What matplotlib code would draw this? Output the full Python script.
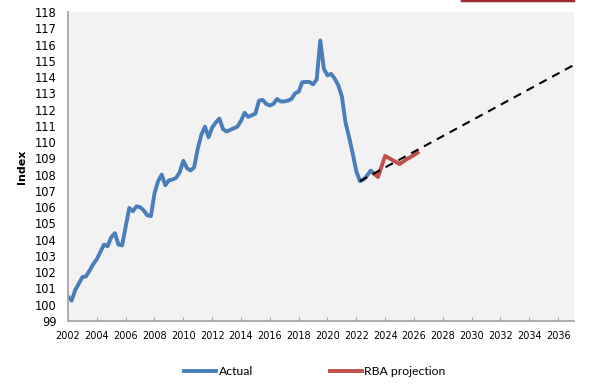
import numpy as np
import matplotlib
matplotlib.use("Agg")
import matplotlib.pyplot as plt
from matplotlib.lines import Line2D

# quarterly index, actual (2002 Q1 onwards)
actual_start = 2002.0
actual = [100.5, 100.25, 100.9, 101.3, 101.7, 101.75, 102.1, 102.5,
          102.8, 103.25, 103.7, 103.6, 104.15, 104.4, 103.7, 103.65,
          104.8, 105.95, 105.75, 106.05, 106.0, 105.8, 105.5, 105.45,
          106.85, 107.6, 108.0, 107.35, 107.65, 107.7, 107.8, 108.15,
          108.85, 108.4, 108.25, 108.45, 109.6, 110.45, 110.95, 110.3,
          110.9, 111.2, 111.45, 110.8, 110.65, 110.75, 110.85, 110.95,
          111.3, 111.8, 111.55, 111.65, 111.75, 112.55, 112.6, 112.35,
          112.25, 112.35, 112.65, 112.5, 112.5, 112.55, 112.65, 113.0,
          113.1, 113.68, 113.7, 113.7, 113.55, 113.85, 116.25, 114.5,
          114.1, 114.2, 113.9, 113.5, 112.8, 111.2, 110.3, 109.3,
          108.2, 107.6, 107.7, 107.95, 108.25, 108.05]
years_actual = actual_start + 0.25 * np.arange(len(actual))

# RBA projection
rba_years = [2023.25, 2023.5, 2024.0, 2024.5, 2025.0, 2025.5, 2026.0, 2026.25]
rba = [108.05, 107.85, 109.15, 108.9, 108.65, 108.95, 109.2, 109.35]

# trend line (dashed)
trend_years = [2022.25, 2037.0]
trend = [107.6, 114.7]

xticks = list(range(2002, 2037, 2))
yticks = list(range(99, 119))

fig = plt.figure(figsize=(6.01, 3.89), dpi=100)
ax = fig.add_axes([68/601, 1-321/389, (574-68)/601, (321-12)/389])
ax.set_facecolor("#F2F2F2")

l1, = ax.plot(years_actual, actual, color="#4A7EBB", lw=2.8, solid_joinstyle="round", label="Actual")
l2, = ax.plot(rba_years, rba, color="#C0504D", lw=2.8, solid_joinstyle="round", label="RBA projection")
ax.plot(trend_years, trend, color="black", lw=1.5, ls=(0, (4, 3)))

ax.set_xlim(2002, 2037.1)
ax.set_ylim(99, 118)
ax.set_xticks(xticks)
ax.set_yticks(yticks)
ax.tick_params(axis="x", direction="in", length=3, color="#A6A6A6", labelsize=7.0, pad=7)
ax.tick_params(axis="y", length=0, labelsize=8.3, pad=8)
for s in ["top", "right"]:
    ax.spines[s].set_visible(False)
for s in ["left", "bottom"]:
    ax.spines[s].set_color("#A6A6A6")
    ax.spines[s].set_linewidth(1.3)

ax.set_ylabel("Index", fontsize=8, fontweight="bold", labelpad=6)

fig.legend(handles=[l1, l2], loc="center", bbox_to_anchor=(0.524, 0.044), ncol=2,
           frameon=False, handlelength=2.6, handletextpad=0.2, columnspacing=6.3,
           prop={"family": "Lato", "size": 8.8})

# partial red box edge at the top right
fig.add_artist(Line2D([462/601, 573/601], [0.999, 0.999], color="#A0282A", lw=2.5))

fig.savefig("out.png", dpi=100)
